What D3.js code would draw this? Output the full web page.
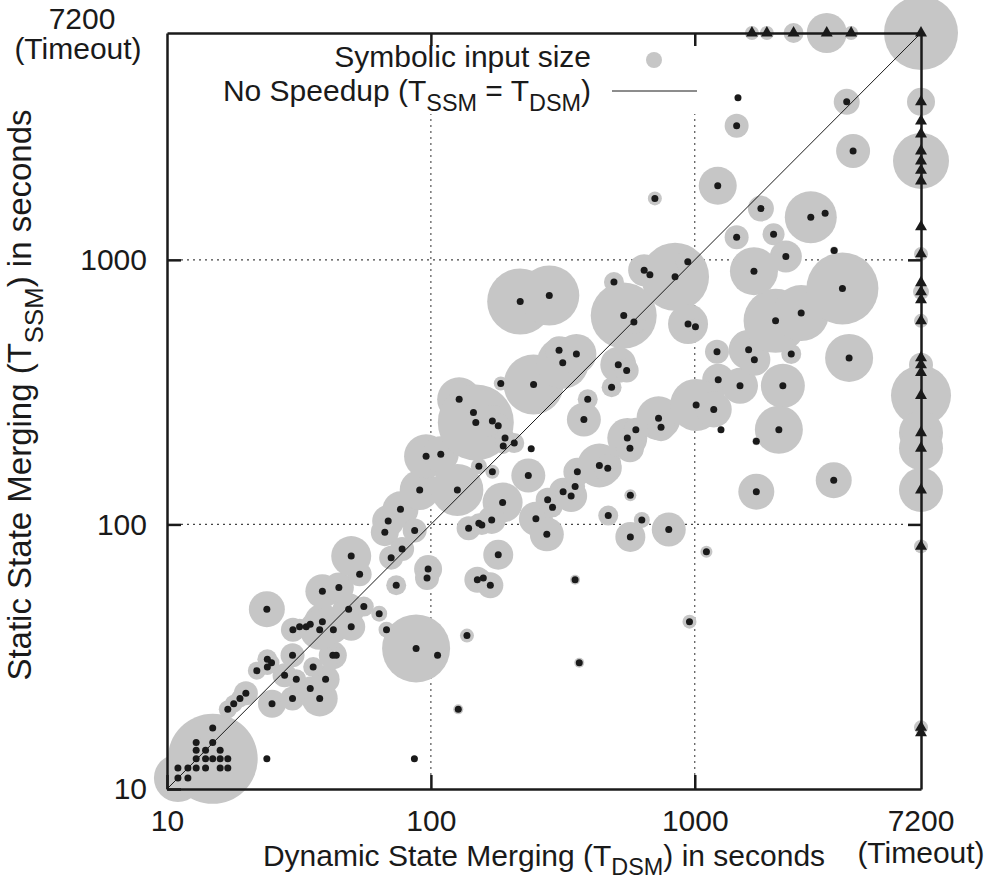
<!DOCTYPE html>
<html>
<head>
<meta charset="utf-8">
<script src="https://cdn.jsdelivr.net/npm/d3@7"></script>
<style>
body { margin: 0; background: #fff; }
svg { display: block; font-family: "Liberation Sans", Arial, Helvetica, sans-serif; }
</style>
</head>
<body>
<svg id="chart"></svg>
<script>
// runs that finished with both strategies (seconds) + symbolic input size
const dsmSeconds = [
  11.0, 12.0, 11.0, 12.0, 12.9, 14.0, 15.9, 17.0, 12.9, 14.0, 14.9, 15.9, 17.0, 12.9, 14.0, 15.9, 12.9, 14.9, 14.9, 23.9,
  86.6, 17.0, 17.9, 18.9, 19.9, 25.0, 29.9, 37.9, 34.9, 39.9, 30.9, 27.9, 35.8, 21.9, 24.0, 24.9, 24.0, 29.9, 42.5, 43.8,
  23.9, 30.0, 31.8, 33.7, 34.9, 38.8, 37.9, 42.7, 49.9, 48.8, 55.7, 63.7, 67.9, 38.8, 44.8, 53.7, 73.9, 49.9, 87.9, 106,
  137, 127, 97.6, 96.7, 150, 158, 168, 180, 352, 365, 955, 1107, 68.9, 66.9, 70.7, 76.7, 86.8, 77.8, 90.7, 95.9,
  109, 126, 128, 145, 148, 171, 180, 184, 191, 188, 207, 240, 152, 171, 234, 187, 139, 152, 156, 170,
  250, 275, 277, 289, 317, 340, 352, 359, 435, 468, 555, 568, 598, 729, 745, 570, 470, 570, 630, 797,
  484, 393, 380, 245, 316, 306, 356, 218, 281, 494, 538, 588, 643, 676, 842, 941, 943, 1006, 513, 552,
  706, 1222, 1214, 1227, 1484, 1012, 1180, 1257, 1600, 1682, 2157, 2321, 2083, 1711, 1711, 3362, 2024, 2531, 3627, 3845,
  1441, 1989, 2214, 3374, 1676, 1781, 2752, 3119, 1441, 1458, 3765, 3981
]
const ssmSeconds = [
  11.0, 11.0, 12.0, 12.0, 12.0, 12.0, 12.0, 12.0, 13.0, 13.0, 13.0, 13.0, 13.0, 14.0, 14.0, 14.0, 15.0, 15.0, 17.0, 13.0,
  13.0, 20.0, 21.0, 22.0, 23.0, 21.0, 22.0, 22.0, 24.0, 26.0, 26.0, 26.9, 28.9, 28.0, 30.9, 30.0, 28.9, 32.0, 32.0, 32.0,
  47.8, 40.0, 41.0, 41.0, 41.9, 42.9, 40.0, 40.0, 41.0, 47.8, 48.9, 46.0, 40.0, 55.9, 57.8, 64.8, 58.9, 75.9, 34.0, 32.0,
  38.0, 20.0, 67.8, 62.7, 61.8, 62.7, 58.9, 76.8, 61.8, 30.0, 42.9, 78.9, 103, 93.5, 74.9, 114, 94.9, 80.7, 135, 181,
  184, 135, 297, 265, 243, 246, 236, 341, 212, 198, 203, 193, 166, 158, 153, 121, 96.8, 101, 99.4, 104,
  105, 91.7, 124, 116, 133, 128, 139, 158, 167, 163, 212, 194, 228, 252, 233, 129, 108, 89.7, 104, 95.7,
  330, 297, 249, 338, 408, 455, 441, 696, 733, 824, 616, 582, 914, 878, 863, 984, 572, 558, 401, 382,
  1707, 1905, 449, 352, 334, 283, 272, 228, 457, 419, 334, 441, 228, 206, 133, 147, 588, 629, 779, 426,
  1218, 1250, 1029, 1084, 906, 1562, 1449, 1500, 3212, 4098, 3954, 2580
]
const inputSize = [
  576, 36, 36, 36, 36, 36, 36, 36, 36, 36, 2025, 36, 36, 36, 36, 36, 36, 36, 36, 0,
  0, 81, 81, 81, 144, 196, 144, 324, 144, 196, 100, 144, 100, 81, 100, 64, 64, 144, 196, 64,
  324, 144, 64, 64, 64, 324, 400, 196, 196, 256, 100, 64, 64, 289, 225, 144, 100, 400, 1156, 36,
  49, 25, 196, 144, 169, 64, 169, 225, 25, 25, 49, 36, 256, 196, 144, 324, 144, 144, 400, 484,
  324, 676, 484, 400, 1444, 256, 144, 49, 100, 64, 100, 0, 64, 49, 289, 400, 144, 100, 100, 196,
  289, 289, 144, 100, 196, 256, 100, 196, 484, 196, 400, 196, 144, 484, 196, 36, 100, 225, 64, 289,
  100, 100, 289, 900, 676, 196, 400, 1089, 900, 100, 1089, 144, 256, 100, 1156, 144, 400, 64, 324, 144,
  49, 361, 144, 256, 324, 676, 324, 9, 400, 256, 484, 100, 576, 16, 324, 324, 1024, 784, 1296, 576,
  144, 121, 256, 16, 576, 169, 676, 36, 144, 0, 169, 289
]

// DSM timed out (plotted at x = 7200): SSM seconds + input size
const dsmTimeoutSsm = [3954, 3346, 2989, 2580, 2364, 2180, 1987, 1332, 1053, 819, 757, 706, 588, 426, 401, 375, 307, 222, 194, 135, 82.6, 17.1, 16.3]
const dsmTimeoutSize = [196, 0, 0, 0, 784, 0, 0, 0, 49, 0, 64, 0, 49, 0, 144, 0, 900, 484, 484, 484, 49, 49, 0]
// SSM timed out (plotted at y = 7200): DSM seconds + input size
const ssmTimeoutDsm = [1647, 1876, 2368, 3163, 3913]
const ssmTimeoutSize = [49, 49, 100, 400, 49]
// both timed out
const bothTimeoutSize = [1369]

const timeout = 7200
const tickValues = [10, 100, 1000]
const gridValues = [100, 1000]

// constants
const width = 986
const height = 882
const margin = { left: 167, right: 65, top: 33, bottom: 93 }
const fontSize = 30
const grey = '#c6c6c6'
const ink = '#1a1a1a'

const svg = d3.select('#chart').attr('width', width).attr('height', height)

const x = d3.scaleLog().domain([10, timeout]).range([margin.left, width - margin.right])
const y = d3.scaleLog().domain([10, timeout]).range([height - margin.bottom, margin.top])
const r = d3.scaleSqrt().domain([0, 2025]).range([0, 45])

const done = dsmSeconds.map((d, i) => ({ dsm: d, ssm: ssmSeconds[i], size: inputSize[i] }))
const timeouts = [
  ...dsmTimeoutSsm.map((d, i) => ({ dsm: timeout, ssm: d, size: dsmTimeoutSize[i] })),
  ...ssmTimeoutDsm.map((d, i) => ({ dsm: d, ssm: timeout, size: ssmTimeoutSize[i] })),
  ...bothTimeoutSize.map(s => ({ dsm: timeout, ssm: timeout, size: s }))
]

// dotted grid
const grid = svg.append('g').attr('stroke', '#444').attr('stroke-width', 1.1).attr('stroke-dasharray', '2,4')
gridValues.forEach(v => {
  grid.append('line').attr('x1', x(v)).attr('x2', x(v)).attr('y1', y(10) - 14).attr('y2', y(timeout) + 14)
  grid.append('line').attr('y1', y(v)).attr('y2', y(v)).attr('x1', x(10) + 14).attr('x2', x(timeout) - 14)
})

// legend box hides the grid behind it
svg.append('rect').attr('x', 190).attr('y', 36).attr('width', 515).attr('height', 78).attr('fill', '#fff')

// grey bubbles = symbolic input size
svg.append('g').selectAll('circle')
  .data(done.concat(timeouts).filter(d => d.size > 0))
  .join('circle')
  .attr('cx', d => x(d.dsm)).attr('cy', d => y(d.ssm)).attr('r', d => r(d.size))
  .attr('fill', grey)

// no speedup diagonal
svg.append('line')
  .attr('x1', x(10)).attr('y1', y(10)).attr('x2', x(timeout)).attr('y2', y(timeout))
  .attr('stroke', ink).attr('stroke-width', 1)

// axes (frame + inward ticks)
const fmt = d3.format('d')
function styleAxis(g) {
  g.attr('font-size', fontSize).attr('font-family', null)
  g.selectAll('.domain, .tick line').attr('stroke', ink).attr('stroke-width', 2.5)
  g.selectAll('text').attr('fill', ink)
}
svg.append('g').attr('transform', `translate(0,${y(10)})`)
  .call(d3.axisBottom(x).tickValues(tickValues).tickFormat(fmt).tickSizeInner(-14).tickSizeOuter(0).tickPadding(21))
  .call(styleAxis)
svg.append('g').attr('transform', `translate(${x(10)},0)`)
  .call(d3.axisLeft(y).tickValues(tickValues).tickFormat(fmt).tickSizeInner(-14).tickSizeOuter(0).tickPadding(20))
  .call(styleAxis)
svg.append('g').attr('transform', `translate(0,${y(timeout)})`)
  .call(d3.axisTop(x).tickValues(gridValues).tickFormat('').tickSizeInner(-13).tickSizeOuter(0))
  .call(styleAxis)
svg.append('g').attr('transform', `translate(${x(timeout)},0)`)
  .call(d3.axisRight(y).tickValues(gridValues).tickFormat('').tickSizeInner(-13).tickSizeOuter(0))
  .call(styleAxis)

// timeout tick labels
const labels = svg.append('g').attr('font-size', fontSize).attr('fill', ink).attr('text-anchor', 'middle')
labels.append('text').attr('x', x(timeout)).attr('y', y(10) + 42).text(fmt(timeout))
labels.append('text').attr('x', x(timeout)).attr('y', y(10) + 74).text('(Timeout)')
labels.append('text').attr('x', 82).attr('y', y(timeout) - 4).text(fmt(timeout))
labels.append('text').attr('x', 78).attr('y', y(timeout) + 26).text('(Timeout)')

// black centre dots
svg.append('g').selectAll('circle')
  .data(done)
  .join('circle')
  .attr('cx', d => x(d.dsm)).attr('cy', d => y(d.ssm)).attr('r', 3.5)
  .attr('fill', ink)

// timeout triangles
svg.append('g').selectAll('path')
  .data(timeouts)
  .join('path')
  .attr('d', d3.symbol().type(d3.symbolTriangle).size(62))
  .attr('transform', d => `translate(${x(d.dsm)},${y(d.ssm)})`)
  .attr('fill', ink)

// texts with subscripts
function subText(sel, size, parts, shift) {
  parts.forEach(p => {
    if (p.sub) {
      sel.append('tspan').attr('font-size', size * 0.78).attr('dy', shift).text(p.sub)
    } else {
      sel.append('tspan').attr('font-size', size).attr('dy', p.back ? -shift : 0).text(p.t)
    }
  })
}
const xTitle = svg.append('text').attr('x', 544).attr('y', 866).attr('text-anchor', 'middle').attr('fill', ink)
subText(xTitle, fontSize, [{ t: 'Dynamic State Merging (T' }, { sub: 'DSM' }, { t: ') in seconds', back: true }], 9)

const yTitle = svg.append('text').attr('transform', 'translate(31,395) rotate(-90)').attr('text-anchor', 'middle').attr('fill', ink)
subText(yTitle, 33, [{ t: 'Static State Merging (T' }, { sub: 'SSM' }, { t: ') in seconds', back: true }], 12)

// legend
const legend = svg.append('g').attr('fill', ink)
legend.append('text').attr('x', 591).attr('y', 67).attr('text-anchor', 'end').attr('font-size', fontSize).text('Symbolic input size')
legend.append('circle').attr('cx', 654).attr('cy', 60).attr('r', 8).attr('fill', grey)
const l2 = legend.append('text').attr('x', 591).attr('y', 101).attr('text-anchor', 'end')
subText(l2, fontSize, [{ t: 'No Speedup (T' }, { sub: 'SSM' }, { t: ' = T', back: true }, { sub: 'DSM' }, { t: ')', back: true }], 10)
legend.append('line').attr('x1', 612).attr('x2', 697).attr('y1', 91).attr('y2', 91).attr('stroke', ink).attr('stroke-width', 1)
</script>
</body>
</html>
